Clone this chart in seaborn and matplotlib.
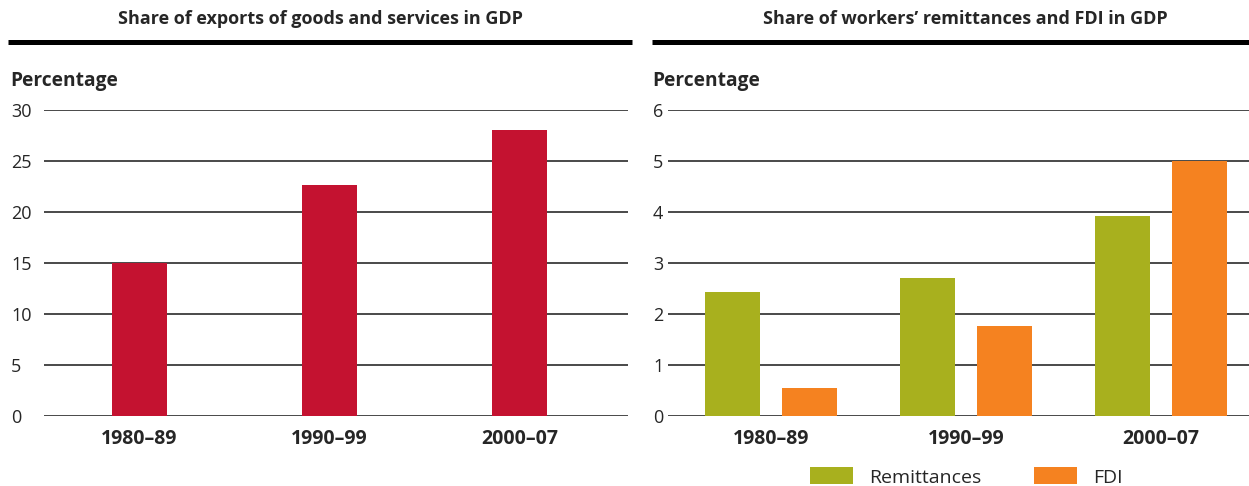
import pandas as pd
import numpy as np
import seaborn as sns
import matplotlib.pyplot as plt
from matplotlib.lines import Line2D
from matplotlib.patches import Patch

sns.set_style('white')
plt.rcParams['font.family'] = ['Open Sans', 'DejaVu Sans']

# data
periods = ['1980\u201389', '1990\u201399', '2000\u201307']
exports_share = [15.0, 22.6, 28.0]
remittances = [2.43, 2.71, 3.92]
fdi = [0.55, 1.76, 5.0]
series_names = ['Remittances', 'FDI']

red = '#C41230'
green = '#A8B01E'
orange = '#F58220'
grid_col = '#3a3a3a'

W, H = 1249, 486
fig = plt.figure(figsize=(W / 100, H / 100), dpi=100)


def px_axes(x0, x1, y0, y1):
    # pixel box (top-left origin) -> figure axes
    return fig.add_axes([x0 / W, 1 - y1 / H, (x1 - x0) / W, (y1 - y0) / H])


def style_axis(ax, ymax, step, pad_px):
    ax.set_ylim(0, ymax)
    ax.set_yticks(np.arange(0, ymax + 0.1, step))
    ax.yaxis.grid(True, color=grid_col, linewidth=1.3)
    ax.set_axisbelow(True)
    ax.xaxis.grid(False)
    for s in ax.spines.values():
        s.set_visible(False)
    ax.tick_params(axis='y', length=0, pad=pad_px * 0.72, labelsize=13)
    ax.tick_params(axis='x', length=0, pad=9, labelsize=14)
    for lab in ax.get_yticklabels():
        lab.set_horizontalalignment('left')
    for lab in ax.get_xticklabels():
        lab.set_fontweight('bold')
    ax.set_xlabel('')
    ax.set_ylabel('')


# ---------------- left panel ----------------
ax1 = px_axes(44, 628, 110, 416)
df1 = pd.DataFrame({'period': periods, 'share': exports_share})
sns.barplot(data=df1, x='period', y='share', color=red, width=0.29,
            saturation=1, linewidth=0, ax=ax1)
ax1.set_xlim(-0.503, 2.571)
style_axis(ax1, 30, 5, 33)

# ---------------- right panel ----------------
ax2 = px_axes(668, 1249, 110, 416)
df2 = pd.DataFrame({
    'period': periods * 2,
    'series': [series_names[0]] * 3 + [series_names[1]] * 3,
    'value': remittances + fdi,
})
sns.barplot(data=df2, x='period', y='value', hue='series',
            palette=[green, orange], width=0.791, gap=0.286,
            saturation=1, linewidth=0, ax=ax2, legend=False)
ax2.set_xlim(-0.529, 2.454)
style_axis(ax2, 6, 1, 15)

# titles, rules and "Percentage" labels
fig.text(320 / W, 1 - 19 / H, 'Share of exports of goods and services in GDP',
         ha='center', va='center', fontsize=13, fontweight='bold')
fig.text(965 / W, 1 - 19 / H, 'Share of workers\u2019 remittances and FDI in GDP',
         ha='center', va='center', fontsize=13, fontweight='bold')
fig.add_artist(Line2D([8 / W, 632 / W], [1 - 42.5 / H] * 2, color='black',
                      linewidth=3.6, solid_capstyle='butt'))
fig.add_artist(Line2D([652 / W, 1.0], [1 - 42.5 / H] * 2, color='black',
                      linewidth=3.6, solid_capstyle='butt'))
fig.text(10 / W, 1 - 81 / H, 'Percentage', ha='left', va='center',
         fontsize=13.8, fontweight='bold')
fig.text(652 / W, 1 - 81 / H, 'Percentage', ha='left', va='center',
         fontsize=13.8, fontweight='bold')

# legend
handles = [Patch(facecolor=green, edgecolor='none'),
           Patch(facecolor=orange, edgecolor='none')]
fig.legend(handles, series_names, loc='center left', ncol=2, frameon=False,
           bbox_to_anchor=(810 / W, 1 - 477 / H), fontsize=14,
           handlelength=2.2, handleheight=0.95, handletextpad=0.85,
           columnspacing=2.7, borderaxespad=0, borderpad=0)

fig.savefig('out.png', dpi=100)
